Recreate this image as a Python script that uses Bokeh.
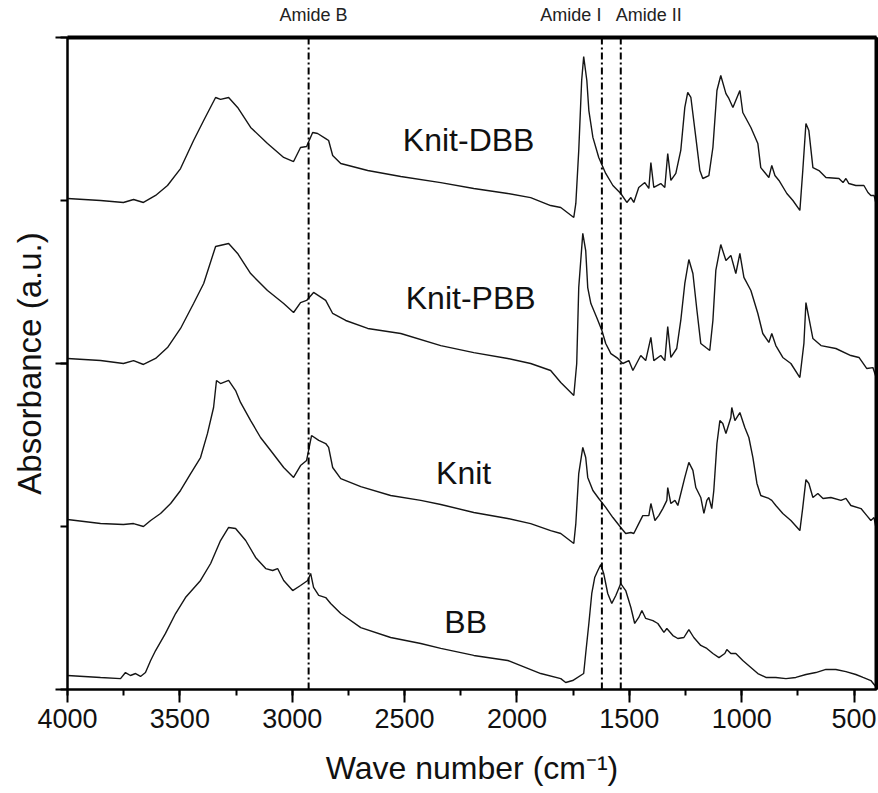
from bokeh.plotting import figure
from bokeh.models import Range1d, SingleIntervalTicker, FixedTicker, Span, Label, LinearAxis
from bokeh.embed import file_html
from bokeh.resources import INLINE

FONT = "Liberation Sans"

# ---------------- data (wavenumber in cm-1, absorbance in offset a.u.) ----------------
wn_dbb = [4000, 3853, 3751, 3706, 3662, 3608, 3555, 3497, 3439, 3394, 3341, 3319, 3283, 3243,
          3185, 3110, 3038, 2994, 2963, 2936, 2909, 2887, 2851, 2838, 2820, 2784, 2664, 2517,
          2339, 2192, 2041, 1939, 1850, 1805, 1747, 1738, 1725, 1712, 1703, 1689, 1680, 1662,
          1636, 1605, 1573, 1538, 1511, 1493, 1480, 1458, 1431, 1413, 1404, 1391, 1360, 1342,
          1329, 1315, 1293, 1271, 1253, 1240, 1226, 1204, 1186, 1173, 1146, 1128, 1110, 1093,
          1070, 1057, 1039, 1008, 995, 959, 928, 915, 879, 866, 852, 834, 799, 772, 741, 728,
          714, 701, 683, 656, 625, 567, 549, 536, 523, 492, 456, 438, 425, 411, 400]
ab_dbb = [3.012, 3.000, 2.988, 3.006, 2.988, 3.031, 3.092, 3.196, 3.368, 3.491, 3.632, 3.620,
          3.632, 3.571, 3.448, 3.350, 3.264, 3.239, 3.325, 3.331, 3.417, 3.411, 3.380, 3.368,
          3.276, 3.227, 3.184, 3.147, 3.110, 3.074, 3.043, 3.018, 2.969, 2.957, 2.896, 2.982,
          3.307, 3.736, 3.883, 3.736, 3.552, 3.387, 3.264, 3.166, 3.092, 3.043, 2.988, 3.018,
          2.988, 3.080, 3.110, 3.074, 3.233, 3.080, 3.104, 3.080, 3.288, 3.123, 3.166, 3.307,
          3.571, 3.663, 3.632, 3.387, 3.184, 3.135, 3.153, 3.325, 3.675, 3.767, 3.656, 3.626,
          3.571, 3.675, 3.540, 3.448, 3.350, 3.202, 3.141, 3.215, 3.153, 3.123, 3.043, 3.000,
          2.939, 3.184, 3.472, 3.429, 3.202, 3.184, 3.141, 3.135, 3.110, 3.135, 3.104, 3.092,
          3.092, 3.049, 3.031, 3.031, 2.969]

wn_pbb = [4000, 3853, 3751, 3706, 3662, 3608, 3555, 3497, 3439, 3394, 3341, 3283, 3243, 3185,
          3110, 3038, 2994, 2963, 2936, 2905, 2851, 2820, 2762, 2664, 2517, 2339, 2192, 2041,
          1939, 1850, 1805, 1747, 1734, 1725, 1707, 1694, 1685, 1671, 1645, 1622, 1605, 1582,
          1551, 1529, 1502, 1484, 1449, 1427, 1404, 1391, 1360, 1342, 1329, 1315, 1289, 1271,
          1253, 1235, 1217, 1199, 1182, 1159, 1142, 1128, 1115, 1093, 1070, 1048, 1026, 1008,
          990, 959, 928, 906, 879, 866, 848, 817, 781, 741, 723, 714, 701, 683, 647, 581, 514,
          478, 443, 416, 400]
ab_pbb = [2.031, 2.018, 2.000, 2.018, 1.994, 2.031, 2.098, 2.215, 2.368, 2.491, 2.718, 2.736,
          2.675, 2.552, 2.448, 2.368, 2.313, 2.374, 2.387, 2.436, 2.387, 2.307, 2.264, 2.215,
          2.184, 2.110, 2.067, 2.031, 2.000, 1.957, 1.883, 1.804, 2.000, 2.466, 2.798, 2.693,
          2.466, 2.368, 2.282, 2.202, 2.123, 2.061, 2.031, 2.000, 2.018, 1.957, 2.049, 2.018,
          2.160, 2.018, 2.049, 2.018, 2.227, 2.037, 2.092, 2.264, 2.491, 2.638, 2.552, 2.325,
          2.123, 2.098, 2.080, 2.264, 2.571, 2.730, 2.632, 2.663, 2.552, 2.675, 2.528, 2.448,
          2.307, 2.184, 2.129, 2.184, 2.110, 2.037, 2.000, 1.914, 2.123, 2.374, 2.282, 2.153,
          2.110, 2.092, 2.049, 2.037, 1.969, 1.975, 1.908]

wn_knit = [4000, 3853, 3751, 3706, 3662, 3630, 3586, 3541, 3497, 3452, 3408, 3377, 3350, 3337,
           3319, 3283, 3252, 3230, 3185, 3141, 3096, 3038, 2994, 2963, 2936, 2914, 2882, 2851,
           2838, 2820, 2784, 2695, 2562, 2428, 2339, 2192, 2041, 1939, 1850, 1805, 1747, 1738,
           1725, 1707, 1694, 1685, 1662, 1636, 1605, 1573, 1538, 1516, 1493, 1480, 1458, 1440,
           1413, 1404, 1386, 1369, 1351, 1333, 1329, 1315, 1297, 1284, 1253, 1235, 1217, 1204,
           1182, 1168, 1155, 1146, 1133, 1124, 1110, 1097, 1084, 1070, 1048, 1044, 1030, 1008,
           986, 968, 950, 932, 915, 879, 866, 848, 817, 781, 741, 728, 714, 701, 683, 661, 638,
           603, 558, 536, 514, 469, 443, 425, 411, 400]
ab_knit = [1.043, 1.018, 1.012, 1.018, 1.000, 1.037, 1.080, 1.141, 1.221, 1.325, 1.423, 1.571,
           1.730, 1.896, 1.877, 1.896, 1.834, 1.761, 1.650, 1.546, 1.466, 1.362, 1.301, 1.374,
           1.405, 1.558, 1.528, 1.509, 1.485, 1.362, 1.294, 1.245, 1.190, 1.160, 1.135, 1.086,
           1.049, 1.018, 0.975, 0.957, 0.896, 1.018, 1.325, 1.485, 1.423, 1.301, 1.221, 1.172,
           1.117, 1.055, 0.994, 0.957, 0.963, 0.957, 1.018, 1.067, 1.067, 1.141, 1.037, 1.067,
           1.110, 1.160, 1.239, 1.141, 1.160, 1.129, 1.301, 1.393, 1.344, 1.239, 1.178, 1.080,
           1.160, 1.178, 1.110, 1.221, 1.509, 1.650, 1.632, 1.571, 1.669, 1.730, 1.650, 1.699,
           1.607, 1.546, 1.423, 1.264, 1.190, 1.172, 1.160, 1.129, 1.080, 1.037, 0.975, 1.117,
           1.288, 1.264, 1.178, 1.202, 1.172, 1.178, 1.160, 1.172, 1.129, 1.110, 1.067, 1.037,
           1.055, 0.975]

wn_bb = [4000, 3853, 3764, 3742, 3720, 3697, 3675, 3653, 3630, 3608, 3564, 3519, 3475, 3408,
         3363, 3319, 3283, 3252, 3207, 3163, 3118, 3087, 3065, 3038, 2998, 2963, 2931, 2918,
         2905, 2882, 2851, 2829, 2784, 2695, 2562, 2428, 2339, 2192, 2041, 1983, 1894, 1805,
         1783, 1752, 1703, 1694, 1680, 1667, 1654, 1640, 1627, 1614, 1596, 1578, 1560, 1538,
         1516, 1493, 1476, 1458, 1444, 1427, 1395, 1373, 1346, 1333, 1306, 1284, 1257, 1235,
         1213, 1182, 1155, 1128, 1101, 1075, 1066, 1048, 1026, 995, 959, 928, 892, 848, 803,
         759, 714, 670, 625, 581, 536, 492, 460, 425, 400]
ab_bb = [0.086, 0.074, 0.067, 0.104, 0.086, 0.098, 0.080, 0.104, 0.178, 0.239, 0.344, 0.466,
         0.564, 0.669, 0.773, 0.914, 0.994, 0.988, 0.914, 0.810, 0.742, 0.730, 0.742, 0.669,
         0.607, 0.638, 0.669, 0.712, 0.626, 0.577, 0.564, 0.528, 0.466, 0.380, 0.319, 0.282,
         0.252, 0.209, 0.178, 0.147, 0.098, 0.067, 0.043, 0.055, 0.098, 0.221, 0.405, 0.589,
         0.687, 0.730, 0.767, 0.712, 0.589, 0.528, 0.577, 0.650, 0.607, 0.503, 0.405, 0.442,
         0.485, 0.436, 0.423, 0.405, 0.350, 0.374, 0.331, 0.313, 0.319, 0.368, 0.319, 0.270,
         0.252, 0.221, 0.196, 0.221, 0.245, 0.221, 0.221, 0.178, 0.135, 0.098, 0.074, 0.074,
         0.067, 0.074, 0.092, 0.104, 0.123, 0.123, 0.110, 0.092, 0.074, 0.055, 0.012]

series_names = ["Knit-DBB", "Knit-PBB", "Knit", "BB"]
series_wn = [wn_dbb, wn_pbb, wn_knit, wn_bb]
series_ab = [ab_dbb, ab_pbb, ab_knit, ab_bb]

band_names = ["Amide B", "Amide I", "Amide II"]
band_wn = [2927, 1622, 1538]

x_start, x_end = 4000, 400
y_start, y_end = 0, 4

# ---------------- figure ----------------
p = figure(width=878, height=793, output_backend="svg", toolbar_location=None,
           x_range=Range1d(x_start, x_end), y_range=Range1d(y_start, y_end),
           min_border_left=67, min_border_right=2, min_border_top=37, min_border_bottom=104)
p.grid.visible = False
p.outline_line_color = "black"
p.outline_line_width = 2

# x axis
xa = p.xaxis[0]
xa.ticker = SingleIntervalTicker(interval=500, num_minor_ticks=2)
xa.axis_label = "Wave number (cm\u207b\u00b9)"
xa.axis_label_text_font = FONT
xa.axis_label_text_font_size = "32px"
xa.axis_label_text_font_style = "normal"
xa.axis_label_text_color = "#111111"
xa.axis_label_standoff = 19
xa.major_label_text_font = FONT
xa.major_label_text_font_size = "27px"
xa.major_label_text_color = "#111111"
xa.major_label_standoff = 6
xa.axis_line_width = 2
xa.major_tick_line_width = 2
xa.minor_tick_line_width = 2
xa.major_tick_out = 13
xa.major_tick_in = 0
xa.minor_tick_out = 6
xa.minor_tick_in = 0

# y axis (no tick labels)
ya = p.yaxis[0]
ya.ticker = SingleIntervalTicker(interval=2, num_minor_ticks=2)
ya.major_label_overrides = {0: "", 2: "", 4: ""}
ya.axis_label = "Absorbance (a.u.)"
ya.axis_label_text_font = FONT
ya.axis_label_text_font_size = "33px"
ya.axis_label_text_font_style = "normal"
ya.axis_label_text_color = "#111111"
ya.axis_label_standoff = 8
ya.major_label_standoff = 5
ya.axis_line_width = 2
ya.major_tick_line_width = 2
ya.minor_tick_line_width = 2
ya.major_tick_out = 12
ya.major_tick_in = 0
ya.minor_tick_out = 7
ya.minor_tick_in = 0

# right border: a bare axis line
right = LinearAxis(ticker=FixedTicker(ticks=[]))
right.axis_line_color = "black"
right.axis_line_width = 4
right.major_tick_line_color = None
right.minor_tick_line_color = None
right.major_label_standoff = 0
p.add_layout(right, "right")

# spectra
for wn, ab in zip(series_wn, series_ab):
    p.line(wn, ab, line_color="#151515", line_width=1.4)

# band marker lines
for loc in band_wn:
    p.add_layout(Span(location=loc, dimension="height", line_color="black",
                      line_width=2, line_dash="7 3 2 3"))

# band names above the frame, as an axis of their own on top; its line is the top border
band_label_x = [2905, 1760, 1413]
top = LinearAxis(ticker=FixedTicker(ticks=band_label_x),
                 major_label_overrides={k: n for k, n in zip(band_label_x, band_names)})
top.axis_line_color = "black"
top.axis_line_width = 4
top.major_tick_line_color = None
top.minor_tick_line_color = None
top.major_label_standoff = 7
top.major_label_text_font = FONT
top.major_label_text_font_size = "18px"
top.major_label_text_color = "#222222"
p.add_layout(top, "above")

# series labels
name_x = [2215, 2206, 2237, 2228]
name_y = [3.374, 2.399, 1.331, 0.417]
for name, lx, ly in zip(series_names, name_x, name_y):
    p.add_layout(Label(x=lx, y=ly, text=name, text_align="center",
                       text_baseline="middle", text_font=FONT,
                       text_font_size="32px", text_color="#111111"))

open("out.html", "w").write(file_html(p, INLINE))
